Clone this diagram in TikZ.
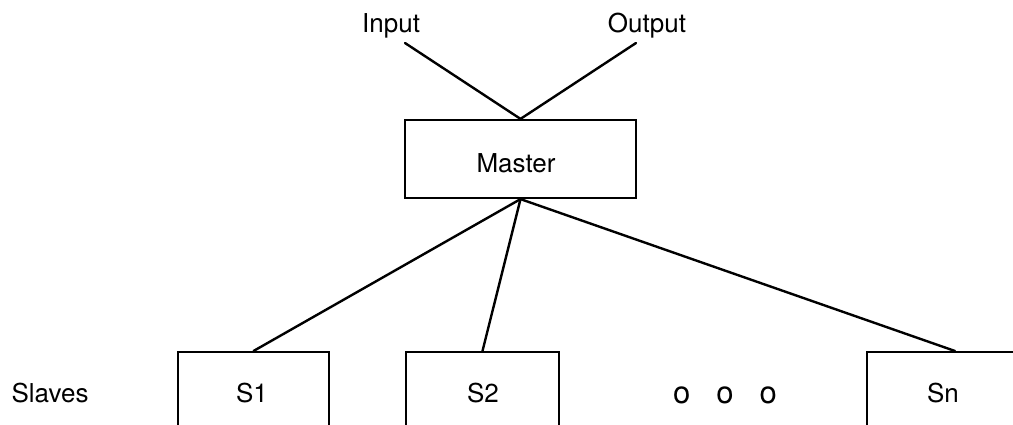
\documentclass[tikz,border=0pt]{standalone}
\usepackage{fontspec}
\setmainfont{TeX Gyre Heros}
\usetikzlibrary{calc}
\begin{document}
\begin{tikzpicture}[x=1pt,y=-1pt,
  txt/.style={font=\fontsize{26}{30}\selectfont, inner sep=0pt, anchor=base},
  box/.style={draw, line width=2.2pt, inner sep=0pt},
  conn/.style={line width=2.4pt, line cap=round}]
\useasboundingbox (0,0) rectangle (1013,424);
\clip (0,0) rectangle (1013,424);
% master
\node[box, minimum width=231pt, minimum height=78pt] (master) at (520.5,159) {};
\node[txt] (mastertxt) at (516,172) {Master};
% inputs / outputs
\node[txt] (input) at (391,32) {Input};
\node[txt] (output) at (647,32) {Output};
\coordinate (inend) at (405,43);
\coordinate (outend) at (636,43);
\draw[conn] (inend) -- (master.north);
\draw[conn] (outend) -- (master.north);
% slaves
\node[box, minimum width=151pt, minimum height=120pt, anchor=north] (s1) at (253.5,351) {};
\node[box, minimum width=153pt, minimum height=120pt, anchor=north] (s2) at (482.5,351) {};
\node[box, minimum width=176pt, minimum height=120pt, anchor=north] (sn) at (955,351) {};
\node[txt] (slaves) at (50,402) {Slaves};
\node[txt] (s1txt) at (252,402) {S1};
\node[txt] (s2txt) at (483,402) {S2};
\node[txt] (sntxt) at (943,402) {Sn};
\node[txt, font=\fontsize{31}{34}\selectfont] (dots) at (725,403) {o\hspace{26pt}o\hspace{26pt}o};
% connectors
\draw[conn] (master.south) -- (s1.north);
\draw[conn] (master.south) -- (s2.north);
\draw[conn] (master.south) -- (sn.north);
\end{tikzpicture}
\end{document}
